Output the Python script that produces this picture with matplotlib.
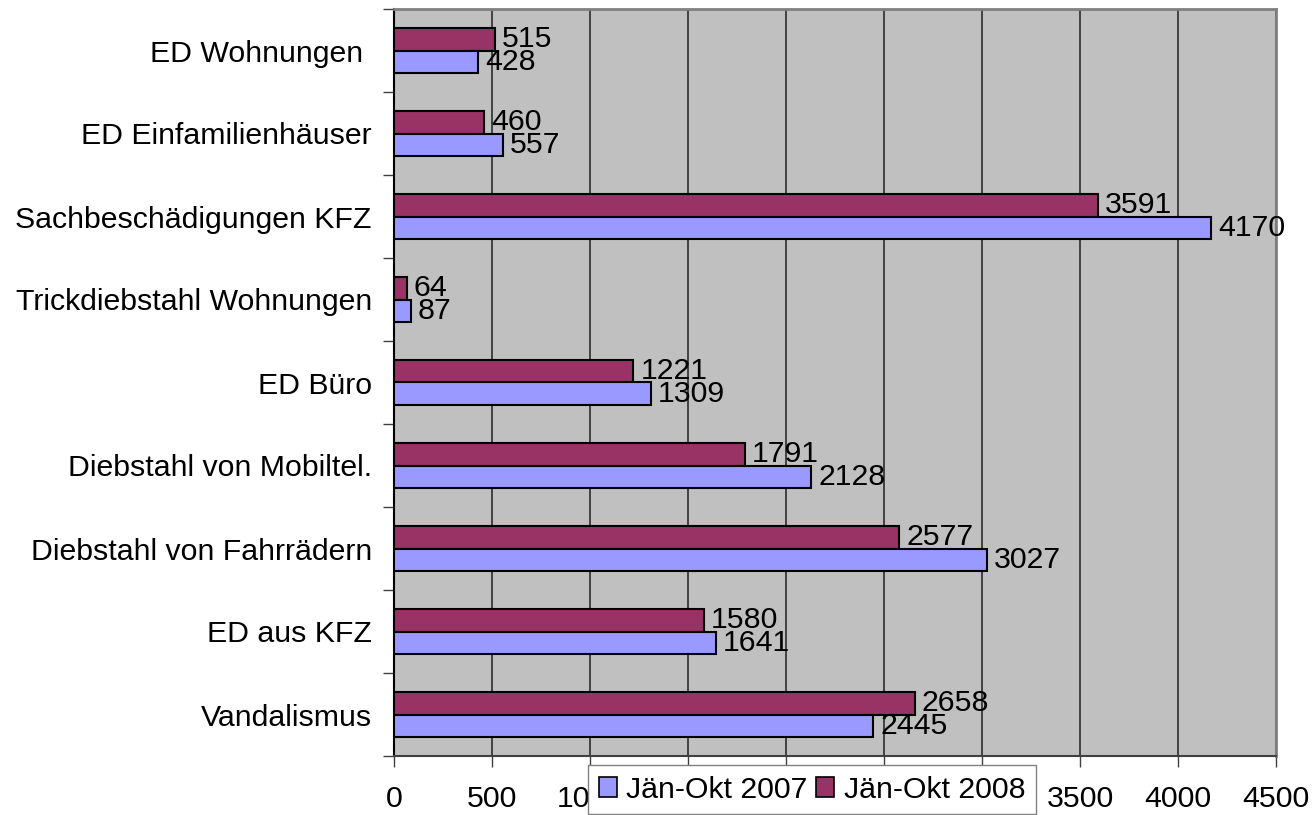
import matplotlib
matplotlib.use("Agg")
import matplotlib.pyplot as plt
import numpy as np
from matplotlib.patches import Patch

categories = ["ED Wohnungen ", "ED Einfamilienhäuser", "Sachbeschädigungen KFZ",
              "Trickdiebstahl Wohnungen", "ED Büro", "Diebstahl von Mobiltel.",
              "Diebstahl von Fahrrädern", "ED aus KFZ", "Vandalismus"]
values_2007 = [428, 557, 4170, 87, 1309, 2128, 3027, 1641, 2445]
values_2008 = [515, 460, 3591, 64, 1221, 1791, 2577, 1580, 2658]
series_names = ["Jän-Okt 2007", "Jän-Okt 2008"]
x_ticks = [0, 500, 1000, 1500, 2000, 2500, 3000, 3500, 4000, 4500]

plt.rcParams['font.family'] = ['Liberation Sans', 'DejaVu Sans']
FS = 21.8

fig = plt.figure(figsize=(13.12, 8.15), dpi=100)
ax = fig.add_axes([394/1312, 1-756/815, (1276-394)/1312, (756-9)/815])
ax.set_facecolor('#C0C0C0')

c2007 = '#9999FF'
c2008 = '#993366'
h = 0.277
y = np.arange(len(categories))

b08 = ax.barh(y - h/2, values_2008, height=h, color=c2008, edgecolor='black', linewidth=1.5, zorder=3)
b07 = ax.barh(y + h/2, values_2007, height=h, color=c2007, edgecolor='black', linewidth=1.5, zorder=3)

for bars, vals in ((b08, values_2008), (b07, values_2007)):
    for rect, v in zip(bars, vals):
        ax.annotate(str(v), (rect.get_width(), rect.get_y() + rect.get_height()/2),
                    xytext=(5, 0), textcoords='offset points', ha='left', va='center',
                    fontsize=FS, zorder=5)

ax.set_xlim(0, 4500)
ax.set_ylim(len(categories) - 0.5, -0.5)
ax.set_xticks(x_ticks)
ax.set_xticklabels([str(t) for t in x_ticks], fontsize=FS)
ax.tick_params(axis='x', length=8, width=1, color='#404040', pad=13)
ax.xaxis.grid(True, color='#202020', linewidth=1.1, zorder=1)
ax.set_axisbelow(True)

ax.set_yticks(y)
ax.set_yticklabels(categories, fontsize=FS)
ax.tick_params(axis='y', which='major', length=0, pad=16)
ax.set_yticks(np.arange(len(categories) + 1) - 0.5, minor=True)
ax.tick_params(axis='y', which='minor', length=8, width=1, color='#404040')

for s in ['top', 'right']:
    ax.spines[s].set_color('#808080')
    ax.spines[s].set_linewidth(2)
ax.spines['left'].set_color('black')
ax.spines['left'].set_linewidth(1.5)
ax.spines['bottom'].set_color('#404040')
ax.spines['bottom'].set_linewidth(1.5)

handles = [Patch(facecolor=c2007, edgecolor='black', linewidth=1.2),
           Patch(facecolor=c2008, edgecolor='black', linewidth=1.2)]
leg = fig.legend(handles, series_names, loc='upper left',
                 bbox_to_anchor=(588/1312, 1-765/815), fontsize=FS,
                 frameon=True, fancybox=False, edgecolor='#808080', framealpha=1,
                 ncol=2, handlelength=0.6, handleheight=0.6, handletextpad=0.3,
                 columnspacing=0.3, borderpad=0.35, borderaxespad=0)
leg.get_frame().set_linewidth(1)

fig.savefig('out.png', dpi=100)
